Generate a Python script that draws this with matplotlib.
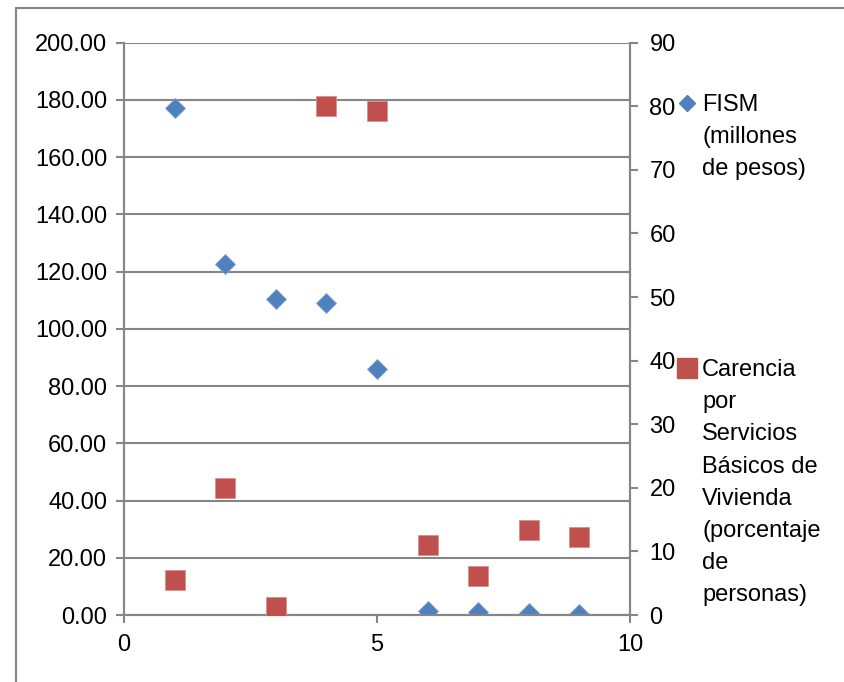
import matplotlib
matplotlib.use("Agg")
import matplotlib.pyplot as plt
from matplotlib.lines import Line2D
from matplotlib.patches import Rectangle

plt.rcParams['font.family'] = ['Liberation Sans', 'DejaVu Sans']

# data
x = [1, 2, 3, 4, 5, 6, 7, 8, 9]
fism = [177.0, 122.8, 110.3, 109.0, 85.8, 1.5, 0.9, 0.6, 0.35]
carencia = [5.5, 20.0, 1.3, 80.1, 79.3, 11.0, 6.1, 13.4, 12.3]
fism_label = "FISM\n(millones\nde pesos)"
carencia_label = "Carencia\npor\nServicios\nBásicos de\nVivienda\n(porcentaje\nde\npersonas)"

blue = '#4F81BD'
red = '#C0504D'
gray = '#868686'
fs = 17
W, H = 845.0, 682.0

fig = plt.figure(figsize=(8.45, 6.82), dpi=100)
ax = fig.add_axes([0.1467, 0.0982, 0.5989, 0.8393])
ax2 = ax.twinx()

ax.plot(x, fism, linestyle='none', marker='D', ms=10.5, color=blue,
        markeredgecolor='#7FA3D1', markeredgewidth=0.6, zorder=3)
ax2.plot(x, carencia, linestyle='none', marker='s', ms=14.5, color=red,
         markeredgecolor='#D9908E', markeredgewidth=0.6, zorder=3)

ax.set_xlim(0, 10)
ax.set_ylim(0, 200)
ax2.set_ylim(0, 90)
ax.set_xticks([0, 5, 10])
ax.set_yticks(range(0, 201, 20))
ax.set_yticklabels(['%.2f' % v for v in range(0, 201, 20)])
ax2.set_yticks(range(0, 91, 10))

ax.grid(axis='y', color=gray, linewidth=1.5)
ax.set_axisbelow(True)
for a in (ax, ax2):
    a.spines['top'].set_visible(False)
    for s in ('left', 'right', 'bottom'):
        a.spines[s].set_color(gray)
        a.spines[s].set_linewidth(1.5)
    a.tick_params(colors=gray, labelcolor='black', labelsize=fs, width=1.5, length=6)
ax.tick_params(axis='x', pad=8)
ax.tick_params(axis='y', pad=6)
ax2.tick_params(axis='y', pad=8)

# legend, Excel style: marker next to the first line of each wrapped label
legend_items = [(fism_label, 'D', 8, blue, 103), (carencia_label, 's', 14, red, 368)]
for label, mk, size, col, ypx in legend_items:
    fig.add_artist(Line2D([687 / W], [1 - ypx / H], transform=fig.transFigure,
                          linestyle='none', marker=mk, ms=size, color=col))
    fig.text(702 / W, 1 - (ypx - 9) / H, label, fontsize=fs, va='top', ha='left',
             linespacing=1.6)

# outer chart frame
fig.add_artist(Rectangle((16 / W, -0.2), 1.5, 1.2 - 8 / H, transform=fig.transFigure,
                         fill=False, edgecolor=gray, linewidth=1.5, clip_on=False))

fig.savefig('out.png', dpi=100)
